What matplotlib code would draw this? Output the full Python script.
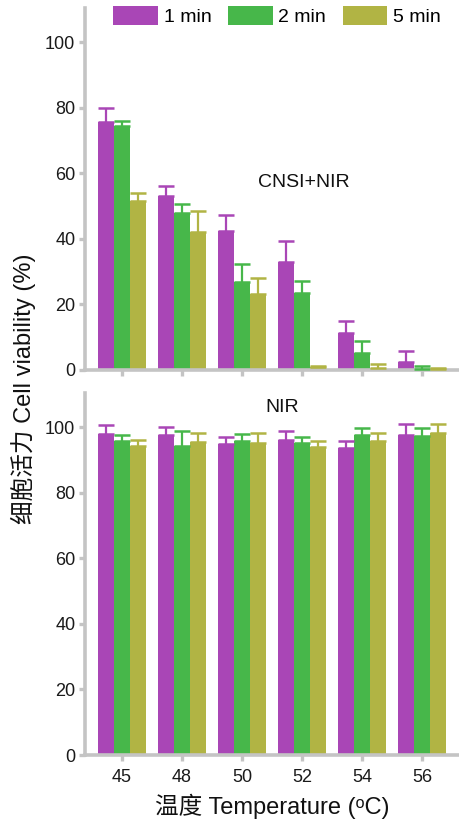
import matplotlib
matplotlib.use("Agg")
import matplotlib.pyplot as plt
import numpy as np
from matplotlib.patches import Patch

plt.rcParams['font.family'] = ['Liberation Sans', 'Noto Sans CJK SC', 'DejaVu Sans']

temps = ['45', '48', '50', '52', '54', '56']
series = ['1 min', '2 min', '5 min']
colors = ['#A946B6', '#47B74A', '#B1B444']

# CNSI+NIR panel
cnsi_vals = {
    '1 min': [75.8, 53.1, 42.4, 32.9, 11.2, 2.5],
    '2 min': [74.5, 48.0, 26.8, 23.6, 5.1, 0.4],
    '5 min': [51.5, 42.2, 23.2, 0.8, 0.5, 0.2],
}
cnsi_err = {
    '1 min': [4.1, 3.2, 4.9, 6.5, 3.8, 3.4],
    '2 min': [1.6, 2.7, 5.5, 3.7, 3.9, 0.9],
    '5 min': [2.6, 6.3, 4.8, 0.5, 1.2, 0.3],
}
# NIR panel
nir_vals = {
    '1 min': [98.1, 97.6, 95.0, 96.2, 93.7, 97.8],
    '2 min': [95.8, 94.3, 95.8, 95.1, 97.8, 97.4],
    '5 min': [94.3, 95.4, 95.2, 94.0, 95.7, 98.4],
}
nir_err = {
    '1 min': [2.7, 2.5, 2.0, 2.6, 2.0, 3.3],
    '2 min': [2.0, 4.5, 2.1, 1.9, 2.0, 2.4],
    '5 min': [2.0, 3.0, 3.2, 2.0, 2.7, 2.7],
}

W, H = 459, 823
fig = plt.figure(figsize=(W / 100, H / 100), dpi=100)

left = 85 / W
width = 374 / W
ax_top = fig.add_axes([left, 1 - 370 / H, width, 362 / H])
ax_bot = fig.add_axes([left, 1 - 755 / H, width, 362 / H])

x = np.arange(len(temps))
bw = 0.27
spine_col = '#c4c4c4'

def draw(ax, vals, errs):
    for k, s in enumerate(series):
        xs = x + (k - 1) * bw
        v = np.array(vals[s])
        e = np.array(errs[s])
        ax.bar(xs, v, width=bw, color=colors[k], edgecolor='none', zorder=2)
        ax.errorbar(xs, v, yerr=[np.zeros_like(e), e], fmt='none',
                    ecolor=colors[k], elinewidth=1.6, capsize=6,
                    capthick=1.8, zorder=3)
    ax.set_xlim(-0.617, 5.617)
    ax.set_ylim(0, 110.5)
    ax.set_yticks([0, 20, 40, 60, 80, 100])
    ax.set_xticks(x)
    for sp in ['top', 'right']:
        ax.spines[sp].set_visible(False)
    for sp in ['left', 'bottom']:
        ax.spines[sp].set_color(spine_col)
        ax.spines[sp].set_linewidth(2.6)
        ax.spines[sp].set_capstyle('projecting')
    ax.tick_params(axis='both', colors=spine_col, width=2.4, length=4,
                   labelsize=13, labelcolor='#1a1a1a')
    ax.tick_params(axis='y', pad=3)
    ax.tick_params(axis='x', pad=6)

draw(ax_top, cnsi_vals, cnsi_err)
draw(ax_bot, nir_vals, nir_err)
ax_bot.set_xticklabels(temps)
ax_top.set_xticklabels([])

ax_top.text(3.03, 57.1, 'CNSI+NIR', ha='center', va='center', fontsize=14, color='#111111')
ax_bot.text(2.67, 106, 'NIR', ha='center', va='center', fontsize=14, color='#111111')

handles = [Patch(facecolor=c, edgecolor='none') for c in colors]
fig.legend(handles, series, loc='upper left', bbox_to_anchor=(113 / W, 1 - 6 / H),
           ncol=3, frameon=False, fontsize=14, handlelength=2.3, handleheight=1.1,
           handletextpad=0.3, columnspacing=0.85, borderpad=0, borderaxespad=0)

fig.text(23 / W, 1 - 389 / H, '细胞活力 Cell viability (%)', rotation=90,
         ha='center', va='center', fontsize=17, color='#111111')
fig.text(272 / W, 1 - 806 / H, '温度 Temperature (ᵒC)', ha='center', va='center',
         fontsize=17, color='#111111')

fig.savefig('out.png', dpi=100)
